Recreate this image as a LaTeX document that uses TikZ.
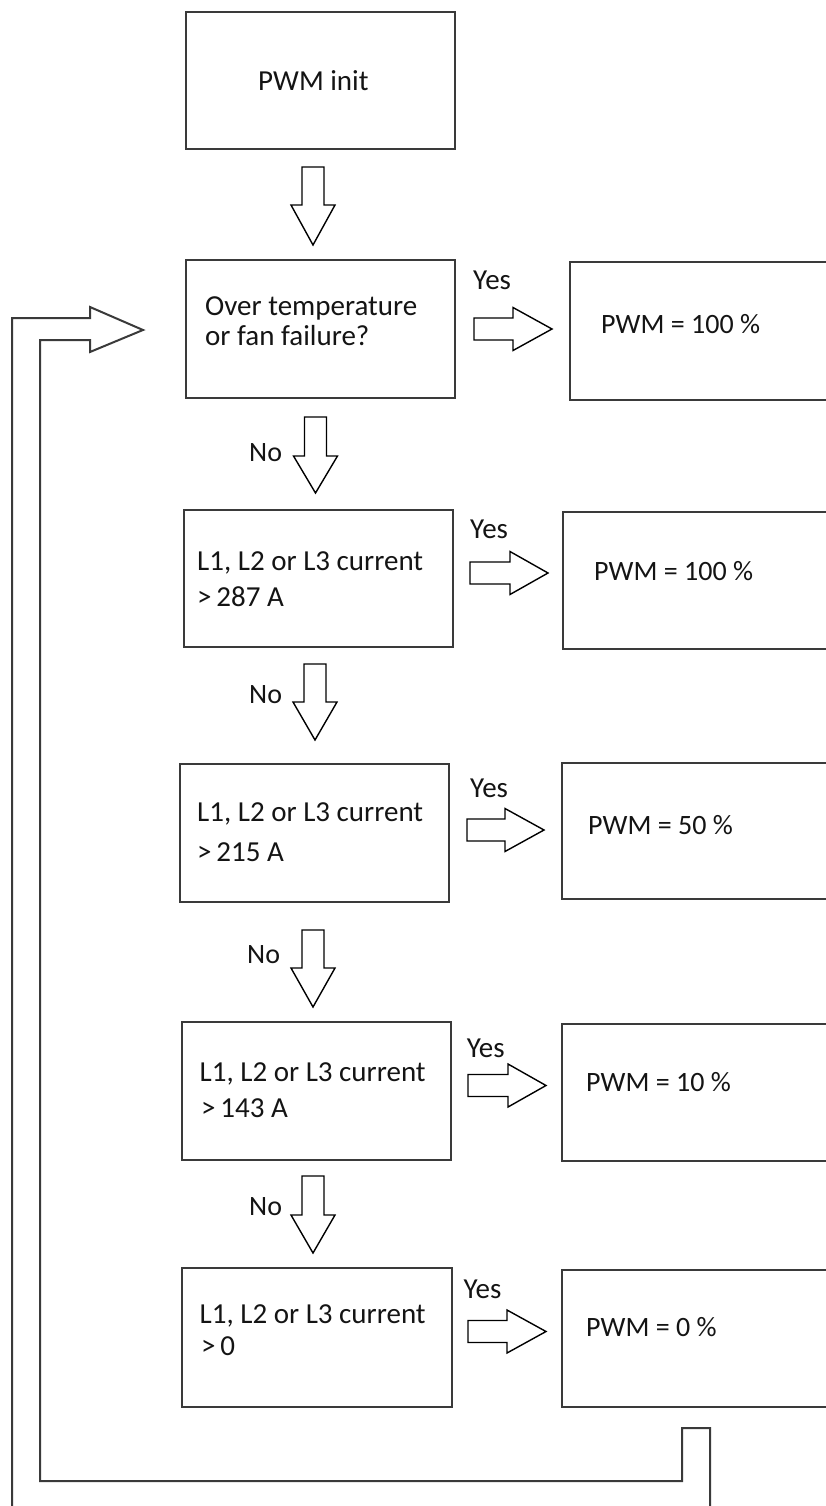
\documentclass[tikz,border=0pt]{standalone}
\usepackage{fontspec}
\setmainfont{Carlito}
\definecolor{boxline}{HTML}{3A3A3A}
\definecolor{txtcol}{HTML}{141414}
\newcommand\fatdown[4]{% centre x, top, head start, tip
  \draw[fat] (#1-11,#2) -- (#1+11,#2) -- (#1+11,#3) -- (#1+22,#3) -- (#1,#4) -- (#1-22,#3) -- (#1-11,#3) -- cycle;}
\newcommand\fatright[4]{% centre y, left, head start, tip
  \draw[fat] (#2,#1-11) -- (#3,#1-11) -- (#3,#1-21.5) -- (#4,#1) -- (#3,#1+21.5) -- (#3,#1+11) -- (#2,#1+11) -- cycle;}
\begin{document}
\begin{tikzpicture}[x=1pt,y=-1pt,
  box/.style={draw=boxline, line width=2pt, inner sep=0pt},
  fat/.style={draw=black, line width=1.4pt, line join=miter},
  loopline/.style={draw=boxline, line width=2pt, line join=miter},
  txt/.style={font=\fontsize{28}{36}\selectfont, text=txtcol, inner sep=0pt, align=left},
  btxt/.style={txt, font=\fontsize{29}{36}\selectfont},
]
\useasboundingbox (0,0) rectangle (826,1506);
\clip (0,0) rectangle (826,1506);

% left column boxes
\node[box, minimum width=269pt, minimum height=137.5pt] (init) at (320.5,80.75) {};
\node[box, minimum width=269pt, minimum height=138pt] (q1) at (320.5,329) {};
\node[box, minimum width=269pt, minimum height=137pt] (q2) at (318.5,578.5) {};
\node[box, minimum width=269pt, minimum height=137.5pt] (q3) at (314.5,832.75) {};
\node[box, minimum width=269pt, minimum height=138pt] (q4) at (316.5,1091) {};
\node[box, minimum width=269.5pt, minimum height=138.5pt] (q5) at (316.75,1337.25) {};

% right column boxes (cut by the right edge)
\node[box, minimum width=290.5pt, minimum height=137.5pt] (r1) at (714.75,330.75) {};
\node[box, minimum width=297pt, minimum height=137pt] (r2) at (711.5,580.5) {};
\node[box, minimum width=298.5pt, minimum height=136pt] (r3) at (710.75,831) {};
\node[box, minimum width=298.5pt, minimum height=137pt] (r4) at (710.75,1092.5) {};
\node[box, minimum width=298.5pt, minimum height=137pt] (r5) at (710.75,1338.5) {};

% texts
\node[btxt, anchor=base west] (tinit) at (258,90.7) {PWM init};
\node[btxt, anchor=base west] (tq1a) at (205,315) {Over temperature};
\node[btxt, anchor=base west] (tq1b) at (205,345) {or fan failure?};
\node[btxt, anchor=base west] (tq2a) at (197,570) {L1, L2 or L3 current};
\node[btxt, anchor=base west] (tq2b) at (197,606.7) {{>}\,287 A};
\node[btxt, anchor=base west] (tq3a) at (197,821.7) {L1, L2 or L3 current};
\node[btxt, anchor=base west] (tq3b) at (197,861.7) {{>}\,215 A};
\node[btxt, anchor=base west] (tq4a) at (199.5,1081.7) {L1, L2 or L3 current};
\node[btxt, anchor=base west] (tq4b) at (201,1117) {{>}\,143 A};
\node[btxt, anchor=base west] (tq5a) at (199.5,1323.3) {L1, L2 or L3 current};
\node[btxt, anchor=base west] (tq5b) at (201,1355) {{>}\,0};

\node[txt, anchor=base west] (tr1) at (601,333.3) {PWM = 100 \%};
\node[txt, anchor=base west] (tr2) at (594,580) {PWM = 100 \%};
\node[txt, anchor=base west] (tr3) at (588,834) {PWM = 50 \%};
\node[txt, anchor=base west] (tr4) at (586,1091) {PWM = 10 \%};
\node[txt, anchor=base west] (tr5) at (586,1336) {PWM = 0 \%};

% Yes / No labels
\node[btxt, anchor=base west] (y1) at (473,289) {Yes};
\node[btxt, anchor=base west] (y2) at (470,538) {Yes};
\node[btxt, anchor=base west] (y3) at (470,797) {Yes};
\node[btxt, anchor=base west] (y4) at (466.7,1057) {Yes};
\node[btxt, anchor=base west] (y5) at (463.3,1298) {Yes};
\node[txt, anchor=base west] (n1) at (249,461.7) {No};
\node[txt, anchor=base west] (n2) at (249,703) {No};
\node[txt, anchor=base west] (n3) at (247,963) {No};
\node[txt, anchor=base west] (n4) at (249,1215) {No};

% block arrows downwards
\fatdown{313}{167}{205}{245}
\fatdown{315.5}{417}{456}{493}
\fatdown{315}{664}{702}{740}
\fatdown{313}{930}{968}{1007}
\fatdown{313}{1176}{1215}{1253}

% block arrows to the right
\fatright{329}{474}{513}{552}
\fatright{573}{470}{510}{548}
\fatright{830}{467}{505}{544}
\fatright{1085.5}{468}{508}{546}
\fatright{1331.5}{468}{507}{546}

% return loop
\coordinate (loopin) at (12,1520);
\coordinate (loopout) at (710,1520);
\draw[loopline] (loopin) -- (12,318) -- (90,318) -- (90,307) -- (143,330) -- (90,352)
  -- (90,340) -- (40,340) -- (40,1481) -- (682,1481) -- (682,1428) -- (710,1428) -- (loopout);
\end{tikzpicture}
\end{document}
